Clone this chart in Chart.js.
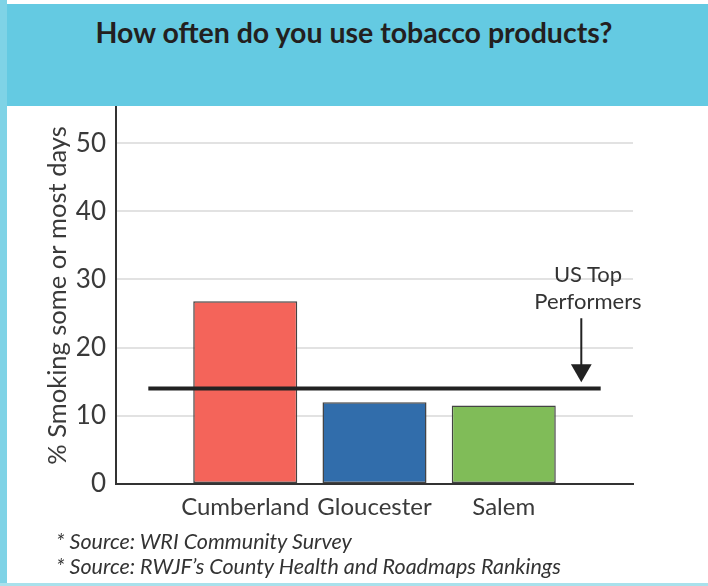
<!DOCTYPE html>
<html>
<head>
<meta charset="utf-8">
<script src="https://cdn.jsdelivr.net/npm/chart.js@4"></script>
<style>
  html, body { margin: 0; padding: 0; background: #fff; }
  #page { position: relative; width: 708px; height: 586px; overflow: hidden; font-family: Lato, "Open Sans", sans-serif; }
  #band { position: absolute; left: 0; top: 4px; width: 708px; height: 102px; background: #64cae2; }
  #leftbar { position: absolute; left: 0; top: 0; width: 7px; height: 586px; background: #7fd3e6; }
  #bottombar { position: absolute; left: 0; top: 583px; width: 708px; height: 3px; background: #a9e1ec; }
  #title { position: absolute; left: 0; top: 15px; width: 708px; text-align: center; font-weight: bold; font-size: 28.5px; color: #231f20; }
  #note { position: absolute; left: 530px; top: 260px; width: 116px; text-align: center; font-size: 22px; line-height: 27px; color: #333; }
  .src { position: absolute; left: 56px; font-style: italic; font-size: 21.5px; color: #333; }
  #wrap { position: absolute; left: 0; top: 0; width: 708px; height: 586px; }
</style>
</head>
<body>
<div id="page">
  <div id="band"></div>
  <div id="leftbar"></div>
  <div id="bottombar"></div>
  <div id="title">How often do you use tobacco products?</div>
  <div id="wrap"><canvas id="c"></canvas></div>
  <div id="note">US Top<br>Performers</div>
  <div class="src" style="top:528px">* Source: WRI Community Survey</div>
  <div class="src" style="top:553px">* Source: RWJF’s County Health and Roadmaps Rankings</div>
</div>
<script>
// 資料
const counties = ['Cumberland', 'Gloucester', 'Salem'];
const smoking = [26.8, 12.0, 11.5];
const barColors = ['#f4645a', '#316dab', '#80bc58'];
const usTop = 14;
const lineFrom = 0.25, lineTo = 3.75;   // 基準線的 x 範圍（類別位置）
const arrowX = 3.6, arrowTop = 24.3, arrowTip = 16.7;
const yTicks = [0, 10, 20, 30, 40, 50];

const txt = '#3a3a3a';

new Chart(document.getElementById('c'), {
    data: {
        datasets: [
            {
                type: 'bar',
                data: counties.map((c, i) => ({x: i + 1, y: smoking[i]})),
                backgroundColor: barColors,
                borderColor: '#444',
                borderWidth: 1.5,
                borderSkipped: false,
                barPercentage: 0.805,
                categoryPercentage: 1,
                order: 2
            },
            {
                type: 'line',
                data: [{x: lineFrom, y: usTop}, {x: lineTo, y: usTop}],
                borderColor: '#222',
                borderWidth: 4,
                pointRadius: 0,
                order: 1
            },
            {
                type: 'line',
                data: [{x: arrowX, y: arrowTop}, {x: arrowX, y: arrowTip}],
                borderColor: '#222',
                borderWidth: 2,
                pointRadius: [0, 12],
                pointStyle: 'triangle',
                rotation: 180,
                pointBackgroundColor: '#222',
                pointBorderWidth: 0,
                order: 0
            }
        ]
    },
    options: {
        responsive: true,
        maintainAspectRatio: false,
        animation: false,
        layout: { padding: { left: 0, right: 75, top: 107, bottom: 0 } },
        plugins: { legend: { display: false }, tooltip: { enabled: false } },
        scales: {
            x: {
                type: 'linear', min: 0, max: 4, offset: false,
                afterFit: s => { s.height = 102; },
                afterBuildTicks: s => { s.ticks = [0, 1, 2, 3, 4].map(v => ({value: v})); },
                grid: { display: false, drawTicks: false, offset: false },
                border: { color: '#333', width: 2 },
                ticks: {
                    autoSkip: false, maxRotation: 0, padding: 9,
                    color: txt, font: { family: 'Lato', size: 24 },
                    callback: v => counties[v - 1] || ''
                }
            },
            y: {
                type: 'linear', min: 0, max: 55.3,
                afterFit: s => { s.width = 116; },
                afterBuildTicks: s => { s.ticks = yTicks.map(v => ({value: v})); },
                grid: { color: '#e2e2e2', lineWidth: 2, drawTicks: false },
                border: { color: '#333', width: 2 },
                ticks: { padding: 10, color: txt, font: { family: 'Lato', size: 26 } },
                title: {
                    display: true, text: '% Smoking some or most days',
                    color: txt, font: { family: 'Lato', size: 25.5 },
                    padding: { top: 42, bottom: 0 }
                }
            }
        }
    }
});
</script>
</body>
</html>
